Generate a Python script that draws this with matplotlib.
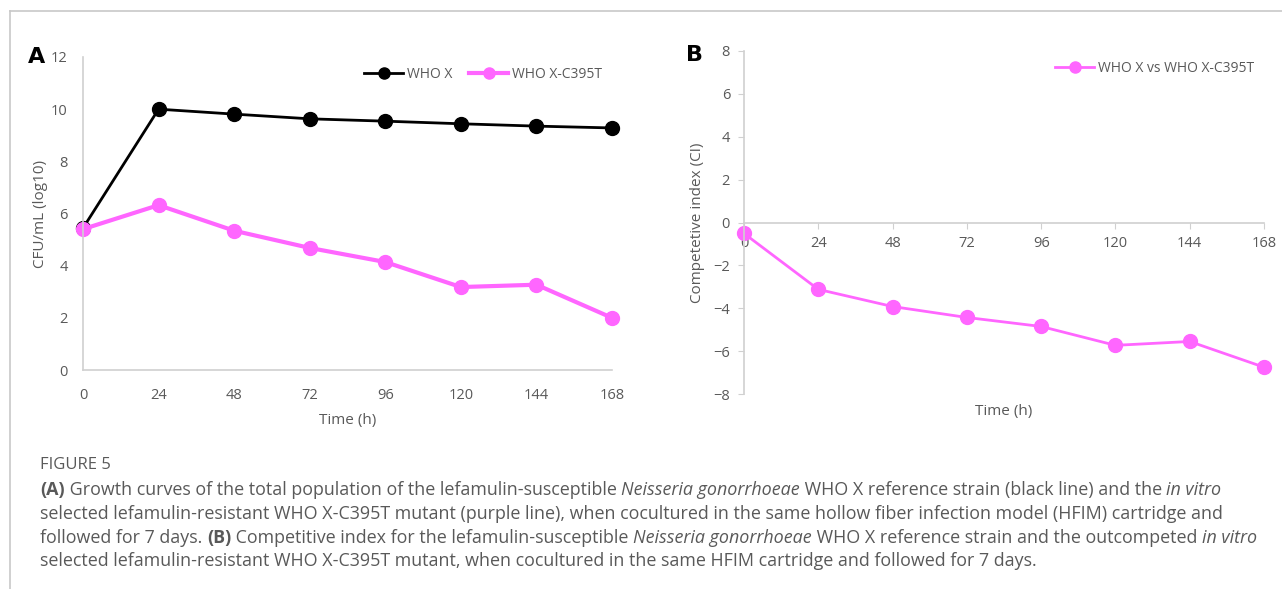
import matplotlib
matplotlib.use("Agg")
import matplotlib.pyplot as plt
from matplotlib.lines import Line2D

# ---- data ----
time_h = [0, 24, 48, 72, 96, 120, 144, 168]
who_x = [5.44, 10.0, 9.81, 9.63, 9.54, 9.44, 9.35, 9.28]
who_x_c395t = [5.40, 6.32, 5.34, 4.68, 4.14, 3.18, 3.27, 2.0]
ci_values = [-0.51, -3.12, -3.92, -4.43, -4.85, -5.73, -5.55, -6.75]
yticks_a = [0, 2, 4, 6, 8, 10, 12]
yticks_b = [-8, -6, -4, -2, 0, 2, 4, 6, 8]
series_a_names = ["WHO X", "WHO X-C395T"]
series_b_name = "WHO X vs WHO X-C395T"

PINK = "#FF66FF"
GRAY_TXT = "#595959"
SPINE = "#D0D0D0"
FONT = "Open Sans"

W, H = 1282, 589
fig = plt.figure(figsize=(W / 100, H / 100), dpi=100)
plt.rcParams['font.family'] = [FONT, 'DejaVu Sans']

def fx(px):
    return px / W

def fy(py):
    return 1 - py / H

# border lines
fig.add_artist(Line2D([fx(10), fx(10)], [fy(11), 0], color="#C8C8C8", lw=1.2))
fig.add_artist(Line2D([fx(10), 1], [fy(11), fy(11)], color="#C8C8C8", lw=1.2))

# ---- panel A ----
axA = fig.add_axes([fx(83), fy(370), fx(612) - fx(83), fy(57) - fy(370)])
axA.plot(time_h, who_x, color="black", lw=2, marker="o", ms=10, label=series_a_names[0])
axA.plot(time_h, who_x_c395t, color=PINK, lw=3, marker="o", ms=10, label=series_a_names[1])
axA.set_xlim(0, 168)
axA.set_ylim(0, 12)
axA.set_xticks(time_h)
axA.set_yticks(yticks_a)
for s in ["top", "right"]:
    axA.spines[s].set_visible(False)
for s in ["left", "bottom"]:
    axA.spines[s].set_color(SPINE)
    axA.spines[s].set_linewidth(1.2)
axA.tick_params(length=0, labelsize=10.5, labelcolor=GRAY_TXT, pad=11)
axA.tick_params(axis="x", pad=13)
axA.set_xlabel("Time (h)", fontsize=11, color=GRAY_TXT, labelpad=7)
axA.set_ylabel("CFU/mL (log10)", fontsize=11, color=GRAY_TXT, labelpad=2)
for l in axA.get_lines():
    l.set_clip_on(False)
leg = axA.legend(loc="upper right", bbox_to_anchor=(1.0, 1.0), ncol=2, frameon=False,
                 fontsize=10, handlelength=2.8, handletextpad=0.3, columnspacing=1.2,
                 borderaxespad=0.3, markerscale=0.8)
for t in leg.get_texts():
    t.set_color(GRAY_TXT)
fig.text(fx(28), fy(57), "A", fontsize=16, fontweight="bold", family="DejaVu Sans", va="center")

# ---- panel B ----
axB = fig.add_axes([fx(744), fy(394), fx(1264) - fx(744), fy(51) - fy(394)])
axB.plot(time_h, ci_values, color=PINK, lw=2, marker="o", ms=10, label=series_b_name, clip_on=False)
axB.set_xlim(0, 168)
axB.set_ylim(-8, 8)
axB.set_xticks(time_h)
axB.set_yticks(yticks_b)
for s in ["top", "right"]:
    axB.spines[s].set_visible(False)
axB.spines["bottom"].set_position(("data", 0))
for s in ["left", "bottom"]:
    axB.spines[s].set_color(SPINE)
    axB.spines[s].set_linewidth(1.2)
axB.tick_params(axis="y", length=4, color=SPINE, labelsize=10.5, labelcolor=GRAY_TXT, pad=6)
axB.tick_params(axis="x", length=4, color=SPINE, labelsize=10.5, labelcolor=GRAY_TXT, pad=6)
axB.set_ylabel("Competetive index (CI)", fontsize=11, color=GRAY_TXT, labelpad=6)
fig.text(fx(1004), fy(412), "Time (h)", fontsize=11, color=GRAY_TXT, ha="center", va="center")
legB = axB.legend(loc="upper right", bbox_to_anchor=(1.0, 1.0), frameon=False,
                  fontsize=10, handlelength=2.8, handletextpad=0.3, borderaxespad=0.3,
                  markerscale=0.8)
for t in legB.get_texts():
    t.set_color(GRAY_TXT)
fig.text(fx(686), fy(55), "B", fontsize=16, fontweight="bold", family="DejaVu Sans", va="center")

# ---- caption ----
fig.text(fx(40), fy(465), "FIGURE 5", fontsize=12, color=GRAY_TXT, va="center")

lines = [
    [("(A)", "bold"), (" Growth curves of the total population of the lefamulin-susceptible ", "normal"),
     ("Neisseria gonorrhoeae", "italic"), (" WHO X reference strain (black line) and the ", "normal"),
     ("in vitro", "italic")],
    [("selected lefamulin-resistant WHO X-C395T mutant (purple line), when cocultured in the same hollow fiber infection model (HFIM) cartridge and", "normal")],
    [("followed for 7 days. ", "normal"), ("(B)", "bold"),
     (" Competitive index for the lefamulin-susceptible ", "normal"), ("Neisseria gonorrhoeae", "italic"),
     (" WHO X reference strain and the outcompeted ", "normal"), ("in vitro", "italic")],
    [("selected lefamulin-resistant WHO X-C395T mutant, when cocultured in the same HFIM cartridge and followed for 7 days.", "normal")],
]
line_y = [490, 514, 538, 561]

renderer = fig.canvas.get_renderer()

def draw_line(pieces, ypx, size, draw=True):
    x = 40.0
    arts = []
    for txt, style in pieces:
        kw = dict(fontsize=size, color=GRAY_TXT, va="center")
        if style == "bold":
            kw["fontweight"] = "bold"
        elif style == "italic":
            kw["fontstyle"] = "italic"
        t = fig.text(fx(x), fy(ypx), txt, **kw)
        bb = t.get_window_extent(renderer)
        x += bb.width
        arts.append(t)
    if not draw:
        for a in arts:
            a.remove()
    return x

base = 11.0
wmax = max(draw_line(p, 0, base, draw=False) for p in lines)
size = base * (1262 - 40) / (wmax - 40)
for pieces, ypx in zip(lines, line_y):
    draw_line(pieces, ypx, size)

fig.savefig("out.png", dpi=100)
